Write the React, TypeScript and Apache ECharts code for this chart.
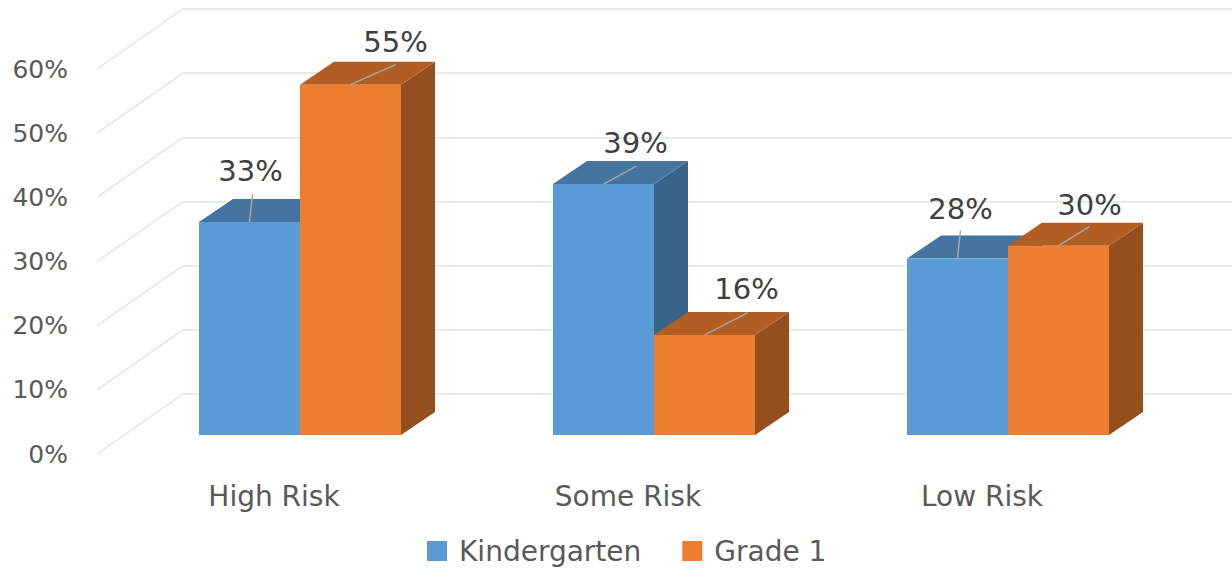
import React, { useEffect, useRef } from "react";
import * as echarts from "echarts";

const categories = ["High Risk", "Some Risk", "Low Risk"];
const kindergarten = [33.2, 39.1, 27.5];
const grade1 = [54.6, 15.6, 29.5];
const yTicks = [0, 10, 20, 30, 40, 50, 60];

// label centre and leader-line end, relative to the front-top centre of each bar
const kgLabelOffsets = [[1, -51, 3, -28], [32, -41, 33, -18], [3, -50, 3, -28]];
const g1LabelOffsets = [[45, -43, 45, -20], [42, -46, 43, -22], [31, -41, 31, -19]];

const FONT = "DejaVu Sans";
const BAR_W = 101;
const DX = 34;
const DY = -23;

function makeBars(
  name: string,
  values: number[],
  offsets: number[][],
  side: -1 | 1,
  front: string,
  top: string,
  right: string
) {
  return {
    type: "custom",
    name,
    xAxisIndex: 0,
    yAxisIndex: 0,
    clip: false,
    itemStyle: { color: front },
    encode: { x: 0, y: 1 },
    data: values.map((v, i) => [i, v]),
    renderItem: (_p: any, api: any) => {
      const i = api.value(0);
      const [cx, yTop] = api.coord([i, api.value(1)]);
      const [, yBase] = api.coord([i, 0]);
      const x0 = side < 0 ? cx - BAR_W : cx;
      const x1 = x0 + BAR_W;
      const o = offsets[i];
      const mx = (x0 + x1) / 2;
      return {
        type: "group",
        children: [
          {
            type: "polygon",
            shape: { points: [[x1, yTop], [x1 + DX, yTop + DY], [x1 + DX, yBase + DY], [x1, yBase]] },
            style: { fill: right },
          },
          {
            type: "polygon",
            shape: { points: [[x0, yTop], [x0 + DX, yTop + DY], [x1 + DX, yTop + DY], [x1, yTop]] },
            style: { fill: top },
          },
          {
            type: "rect",
            shape: { x: x0, y: yTop, width: BAR_W, height: yBase - yTop },
            style: { fill: front },
          },
          {
            type: "line",
            shape: { x1: mx, y1: yTop, x2: mx + o[2], y2: yTop + o[3] },
            style: { stroke: "#a6a6a6", lineWidth: 1.5 },
          },
          {
            type: "text",
            x: mx + o[0],
            y: yTop + o[1],
            style: {
              text: Math.round(api.value(1)) + "%",
              fontFamily: FONT,
              fontSize: 29,
              fill: "#404040",
              align: "center",
              verticalAlign: "middle",
            },
          },
        ],
      };
    },
  };
}

export default function App() {
  const ref = useRef<HTMLDivElement>(null);
  useEffect(() => {
    document.body.style.margin = "0";
    const chart = echarts.init(ref.current!, undefined, { renderer: "svg" });
    chart.setOption({
      animation: false,
      backgroundColor: "#ffffff",
      grid: [
        // front edge of the bars
        { left: 123, top: 50, width: 1062, height: 385 },
        // front plane of the axis: tick labels and category labels
        { left: 97, top: 69, width: 1062, height: 385 },
        // back wall
        { left: 183, top: 9, right: 0, height: 385 },
      ],
      xAxis: [
        { gridIndex: 0, type: "category", data: categories, show: false },
        {
          gridIndex: 1,
          type: "category",
          data: categories,
          axisLine: { show: false },
          axisTick: { show: false },
          axisLabel: { margin: 28, fontFamily: FONT, fontSize: 28, color: "#595959" },
        },
        { gridIndex: 2, type: "category", data: categories, show: false },
      ],
      yAxis: [
        { gridIndex: 0, type: "value", min: 0, max: 60, interval: 10, show: false },
        {
          gridIndex: 1,
          type: "value",
          min: 0,
          max: 60,
          interval: 10,
          axisLine: { show: false },
          axisTick: { show: false },
          splitLine: { show: false },
          axisLabel: {
            margin: 29,
            fontFamily: FONT,
            fontSize: 25,
            color: "#595959",
            formatter: (v: number) => v + "%",
          },
        },
        {
          gridIndex: 2,
          type: "value",
          min: 0,
          max: 60,
          interval: 10,
          axisLine: { show: false },
          axisTick: { show: false },
          axisLabel: { show: false },
          splitLine: { show: true, lineStyle: { color: "#eaeaea", width: 2 } },
        },
      ],
      legend: {
        left: 427,
        top: 537,
        padding: 0,
        itemWidth: 20,
        itemHeight: 20,
        itemGap: 41,
        icon: "rect",
        data: ["Kindergarten", "Grade 1"],
        textStyle: { fontFamily: FONT, fontSize: 28, color: "#595959", padding: [0, 0, 0, 7] },
      },
      series: [
        {
          type: "custom",
          silent: true,
          xAxisIndex: 1,
          yAxisIndex: 1,
          clip: false,
          encode: { y: 0 },
          data: yTicks.map((t) => [t]),
          renderItem: (p: any, api: any) => {
            const x = p.coordSys.x;
            const [, y] = api.coord([0, api.value(0)]);
            return {
              type: "line",
              shape: { x1: x, y1: y, x2: x + 86, y2: y - 60 },
              style: { stroke: "#e3e3e3", lineWidth: 1.5 },
            };
          },
        },
        makeBars("Kindergarten", kindergarten, kgLabelOffsets, -1, "#5b9bd5", "#44749f", "#386587"),
        makeBars("Grade 1", grade1, g1LabelOffsets, 1, "#ed7d31", "#b25d21", "#954f1c"),
      ],
    });
    return () => chart.dispose();
  }, []);
  return <div ref={ref} style={{ position: "absolute", left: 0, top: 0, width: 1232, height: 571 }} />;
}
